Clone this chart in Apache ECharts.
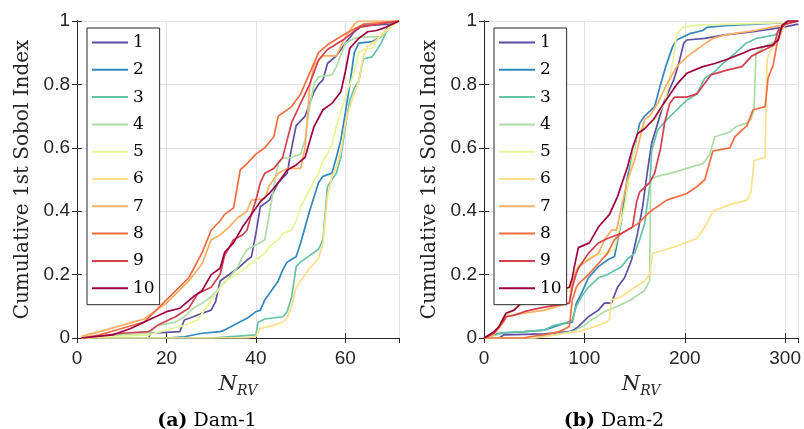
<!DOCTYPE html>
<html>
<head>
<meta charset="utf-8">
<script src="https://cdn.jsdelivr.net/npm/echarts@6/dist/echarts.min.js"></script>
<style>html,body{margin:0;background:#fff}#main{width:804px;height:429px}</style>
</head>
<body>
<div id="main"></div>
<script>
// series names and colours (Spectral, 1..10)
var names = ['1', '2', '3', '4', '5', '6', '7', '8', '9', '10'];
var colors = ['#5e4fa2', '#3288bd', '#66c2a5', '#abdda4', '#e6f598', '#fee08b', '#fdae61', '#f46d43', '#d53e4f', '#9e0142'];

// Dam-1 : [N_RV, cumulative 1st Sobol index]
var dam1_s1 = [[1,0],[16,0],[16.5,0.015],[23,0.02],[24,0.057],[26,0.067],[28,0.078],[30,0.088],[31,0.115],[32,0.18],[33,0.19],[36,0.22],[38,0.246],[39,0.256],[40,0.33],[41,0.414],[43,0.435],[45,0.49],[47,0.52],[48,0.6],[49,0.67],[51,0.7],[52,0.74],[53,0.777],[54,0.8],[55,0.814],[56,0.866],[58,0.89],[60,0.93],[62,0.966],[64,0.987],[66,0.987],[70,0.99],[72,1]];
var dam1_s2 = [[1,0],[20,0],[24,0.004],[28,0.015],[32,0.02],[33,0.025],[35,0.04],[38,0.062],[40,0.083],[41,0.088],[42,0.12],[44,0.16],[45,0.18],[46,0.215],[47,0.24],[49,0.256],[50,0.3],[51,0.35],[52,0.4],[54,0.49],[55,0.51],[57,0.52],[58,0.57],[59,0.625],[60,0.71],[61,0.8],[62,0.9],[63,0.93],[66,0.935],[68,0.95],[70,0.99],[72,1]];
var dam1_s3 = [[1,0],[30,0],[40,0.01],[40.5,0.05],[42,0.06],[46,0.067],[47,0.083],[48,0.13],[49,0.225],[50,0.24],[52,0.26],[54,0.28],[55,0.31],[56,0.477],[57,0.5],[58,0.52],[59,0.57],[60,0.667],[61,0.75],[62,0.788],[63,0.81],[64,0.88],[66,0.887],[67,0.908],[68,0.93],[69,0.96],[70,0.99],[72,1]];
var dam1_s4 = [[1,0],[10,0.01],[16,0.015],[18,0.04],[22,0.05],[24,0.067],[26,0.094],[28,0.11],[30,0.13],[32,0.16],[34,0.19],[36,0.225],[37,0.256],[38,0.278],[40,0.293],[42,0.31],[43,0.39],[44,0.477],[45,0.55],[46,0.567],[48,0.57],[50,0.58],[51,0.625],[52,0.73],[53,0.8],[54,0.824],[57,0.83],[58,0.856],[60,0.93],[62,0.945],[64,0.95],[68,0.95],[70,0.98],[72,1]];
var dam1_s5 = [[1,0],[16,0.01],[20,0.025],[24,0.04],[27,0.057],[30,0.12],[33,0.178],[36,0.204],[38,0.225],[40,0.246],[42,0.267],[43,0.288],[45,0.31],[46,0.33],[48,0.34],[49,0.37],[50,0.414],[52,0.467],[54,0.52],[55,0.56],[56,0.58],[57,0.61],[58,0.667],[60,0.76],[62,0.84],[63,0.9],[64,0.91],[66,0.914],[67,0.94],[69,0.97],[72,1]];
var dam1_s6 = [[1,0],[38,0],[40,0.005],[41,0.03],[44,0.04],[46,0.05],[47,0.062],[48,0.1],[49,0.16],[50,0.18],[52,0.22],[54,0.25],[55,0.3],[56,0.446],[57,0.51],[58,0.54],[59,0.59],[60,0.677],[61,0.73],[62,0.77],[63,0.81],[64,0.887],[65,0.92],[67,0.94],[69,0.97],[71,0.99],[72,1]];
var dam1_s7 = [[1,0.005],[5,0.02],[10,0.04],[15,0.06],[20,0.11],[25,0.18],[28,0.235],[30,0.31],[32,0.325],[34,0.35],[36,0.38],[38,0.4],[39,0.435],[42,0.44],[43,0.48],[45,0.52],[47,0.535],[50,0.535],[51,0.6],[52,0.79],[53,0.86],[55,0.89],[58,0.89],[60,0.95],[62,0.99],[63,1],[72,1]];
var dam1_s8 = [[1,0],[5,0.01],[10,0.03],[15,0.05],[20,0.12],[25,0.19],[28,0.27],[30,0.34],[32,0.37],[33,0.39],[35,0.41],[36.5,0.53],[38,0.55],[40,0.58],[42,0.6],[44,0.635],[45,0.7],[48,0.73],[50,0.77],[52,0.835],[54,0.9],[56,0.925],[60,0.96],[64,0.99],[72,1]];
var dam1_s9 = [[1,0],[10,0.015],[16,0.02],[18,0.04],[22,0.067],[25,0.094],[27,0.14],[30,0.16],[32,0.2],[33,0.26],[35,0.31],[37,0.325],[38,0.34],[39,0.39],[40,0.435],[41,0.49],[42,0.52],[44,0.535],[46,0.57],[47,0.625],[48,0.68],[50,0.74],[52,0.8],[54,0.877],[56,0.91],[60,0.945],[63,0.98],[72,1]];
var dam1_s10 = [[1,0],[8,0.01],[12,0.03],[16,0.057],[20,0.083],[23,0.094],[26,0.13],[28,0.15],[30,0.2],[32,0.22],[33,0.27],[35,0.3],[37,0.35],[39,0.39],[41,0.43],[43,0.456],[45,0.49],[47,0.53],[49,0.546],[51,0.57],[53,0.667],[55,0.72],[57,0.74],[59,0.777],[60,0.84],[61,0.914],[63,0.945],[65,0.966],[67,0.97],[69,0.98],[72,1]];

// Dam-2
var dam2_s1 = [[0,0],[15,0],[20,0.01],[60,0.013],[85,0.02],[90,0.027],[94,0.036],[104,0.067],[114,0.088],[120,0.11],[127,0.11],[133,0.16],[140,0.19],[147,0.246],[153,0.33],[158,0.414],[163,0.53],[167,0.614],[174,0.688],[180,0.75],[189,0.814],[194,0.866],[199,0.93],[202,0.94],[220,0.945],[240,0.956],[268,0.966],[297,0.98],[313,0.99]];
var dam2_s2 = [[0,0],[15,0.015],[40,0.02],[60,0.025],[70,0.036],[80,0.046],[88,0.05],[92,0.11],[97,0.14],[104,0.19],[114,0.225],[123,0.246],[130,0.257],[137,0.37],[143,0.51],[150,0.6],[155,0.677],[160,0.7],[170,0.73],[175,0.79],[181,0.856],[188,0.92],[192,0.94],[205,0.96],[218,0.97],[222,0.98],[240,0.985],[300,0.995],[313,1]];
var dam2_s3 = [[0,0],[20,0.017],[40,0.02],[60,0.025],[70,0.04],[80,0.046],[88,0.057],[92,0.1],[97,0.13],[104,0.16],[114,0.19],[123,0.2],[137,0.225],[143,0.25],[150,0.267],[155,0.31],[160,0.36],[165,0.477],[167,0.59],[173,0.656],[182,0.688],[192,0.72],[202,0.75],[212,0.77],[220,0.82],[228,0.835],[238,0.866],[251,0.9],[261,0.93],[271,0.945],[290,0.956],[297,0.977],[302,0.995],[313,1]];
var dam2_s4 = [[0,0],[50,0],[70,0.01],[90,0.022],[100,0.04],[107,0.057],[120,0.083],[133,0.1],[146,0.12],[160,0.15],[165,0.18],[166,0.5],[173,0.51],[192,0.525],[202,0.535],[218,0.55],[225,0.58],[230,0.635],[245,0.65],[251,0.667],[261,0.677],[266,0.69],[269,0.72],[271,0.9],[274,0.905],[280,0.92],[293,0.94],[300,0.995],[313,1]];
var dam2_s5 = [[0,0],[10,0.01],[20,0.067],[25,0.078],[35,0.1],[45,0.12],[55,0.125],[70,0.136],[85,0.15],[88,0.19],[94,0.23],[107,0.257],[120,0.267],[130,0.28],[140,0.414],[146,0.53],[151,0.625],[155,0.656],[170,0.688],[180,0.74],[188,0.866],[192,0.96],[198,0.98],[212,0.987],[300,0.995],[313,1]];
var dam2_s6 = [[0,0],[50,0],[60,0.004],[80,0.015],[94,0.02],[114,0.04],[122,0.05],[125,0.06],[127,0.12],[137,0.13],[150,0.16],[160,0.18],[165,0.2],[168,0.267],[182,0.28],[192,0.29],[212,0.314],[220,0.35],[228,0.4],[244,0.42],[262,0.435],[266,0.46],[269,0.56],[280,0.57],[282,0.88],[286,0.91],[290,0.93],[295,0.96],[300,0.99],[313,1]];
var dam2_s7 = [[0,0],[10,0.01],[20,0.052],[22,0.067],[40,0.078],[60,0.088],[85,0.11],[88,0.18],[94,0.225],[104,0.246],[114,0.267],[120,0.31],[127,0.34],[132,0.34],[137,0.414],[143,0.5],[150,0.56],[155,0.625],[160,0.69],[165,0.7],[173,0.74],[182,0.8],[192,0.856],[202,0.887],[212,0.91],[218,0.924],[228,0.945],[240,0.956],[270,0.97],[297,0.987],[313,1]];
var dam2_s8 = [[0,0],[40,0],[45,0.004],[60,0.01],[75,0.02],[85,0.036],[88,0.12],[92,0.16],[94,0.17],[104,0.2],[114,0.235],[123,0.267],[130,0.31],[137,0.33],[153,0.36],[166,0.4],[182,0.435],[202,0.456],[212,0.477],[220,0.5],[228,0.59],[245,0.6],[250,0.635],[262,0.67],[268,0.72],[280,0.73],[283,0.82],[288,0.86],[292,0.93],[297,0.98],[302,1],[313,1]];
var dam2_s9 = [[0,0],[10,0.015],[20,0.057],[22,0.067],[30,0.072],[40,0.083],[55,0.094],[65,0.1],[85,0.11],[88,0.16],[92,0.204],[94,0.22],[104,0.267],[114,0.3],[123,0.314],[137,0.33],[148,0.35],[152,0.43],[155,0.46],[165,0.49],[170,0.52],[176,0.6],[180,0.68],[185,0.74],[190,0.76],[202,0.76],[212,0.77],[226,0.83],[242,0.845],[257,0.856],[267,0.89],[280,0.91],[289,0.924],[293,0.97],[300,0.99],[313,1]];
var dam2_s10 = [[0,0],[10,0.02],[15,0.036],[20,0.067],[22,0.078],[30,0.088],[35,0.104],[43,0.13],[55,0.136],[65,0.146],[75,0.15],[85,0.16],[88,0.19],[90,0.225],[94,0.285],[105,0.3],[114,0.35],[125,0.39],[133,0.446],[143,0.54],[148,0.6],[153,0.645],[160,0.66],[169,0.69],[179,0.74],[192,0.8],[202,0.835],[218,0.856],[230,0.866],[243,0.88],[259,0.9],[266,0.91],[280,0.92],[287,0.924],[293,0.94],[297,0.987],[303,1],[313,1]];

var dam1 = [dam1_s1, dam1_s2, dam1_s3, dam1_s4, dam1_s5, dam1_s6, dam1_s7, dam1_s8, dam1_s9, dam1_s10];
var dam2 = [dam2_s1, dam2_s2, dam2_s3, dam2_s4, dam2_s5, dam2_s6, dam2_s7, dam2_s8, dam2_s9, dam2_s10];

var serif = 'DejaVu Serif';
var sans = 'Liberation Sans';
var dark = '#262626';

function xAxes(gi, xmax, step) {
    return [{
        type: 'value', gridIndex: gi, min: 0, max: xmax, interval: step,
        name: '{n|N}{s|RV}', nameLocation: 'middle', nameGap: 34,
        nameTextStyle: {
            rich: {
                n: { fontFamily: serif, fontStyle: 'italic', fontSize: 21, color: dark },
                s: { fontFamily: serif, fontStyle: 'italic', fontSize: 14, color: dark, padding: [12, 0, 0, 0] }
            }
        },
        axisLine: { lineStyle: { color: dark, width: 1 } },
        axisTick: { inside: true, length: 5, lineStyle: { color: dark } },
        axisLabel: { fontFamily: sans, fontSize: 19, color: dark, margin: 11, showMaxLabel: false },
        splitLine: { show: true, lineStyle: { color: '#e3e3e3', width: 1 } }
    }, {
        type: 'value', gridIndex: gi, min: 0, max: xmax, interval: step, position: 'top',
        axisLine: { lineStyle: { color: dark, width: 1 } },
        axisTick: { inside: true, length: 5, lineStyle: { color: dark } },
        axisLabel: { show: false }, splitLine: { show: false }
    }];
}

function yAxes(gi) {
    return [{
        type: 'value', gridIndex: gi, min: 0, max: 1, interval: 0.2,
        name: 'Cumulative 1st Sobol Index', nameLocation: 'middle', nameGap: 44,
        nameTextStyle: { fontFamily: serif, fontSize: 20, color: dark },
        axisLine: { show: true, lineStyle: { color: dark, width: 1 } },
        axisTick: { show: true, inside: true, length: 5, lineStyle: { color: dark } },
        axisLabel: { fontFamily: sans, fontSize: 19, color: dark, margin: 7 },
        splitLine: { show: true, lineStyle: { color: '#e3e3e3', width: 1 } }
    }, {
        type: 'value', gridIndex: gi, min: 0, max: 1, interval: 0.2, position: 'right',
        axisLine: { show: true, lineStyle: { color: dark, width: 1 } },
        axisTick: { show: true, inside: true, length: 5, lineStyle: { color: dark } },
        axisLabel: { show: false }, splitLine: { show: false }
    }];
}

function legendAt(left) {
    return {
        data: names, orient: 'vertical', left: left, top: 28,
        padding: [6, 5, 8, 5], itemGap: 10.3, itemWidth: 36, itemHeight: 2,
        icon: 'rect',
        borderColor: dark, borderWidth: 1, backgroundColor: '#fff',
        selectedMode: false,
        textStyle: { fontFamily: serif, fontSize: 17, color: '#000', lineHeight: 12 }
    };
}

var series = [];
[dam1, dam2].forEach(function (set, gi) {
    set.forEach(function (pts, i) {
        series.push({
            name: names[i], type: 'line', data: pts,
            xAxisIndex: gi * 2, yAxisIndex: gi * 2,
            symbol: 'none', color: colors[i],
            lineStyle: { width: 1.7, color: colors[i] },
            animation: false
        });
    });
});

var myChart = echarts.init(document.getElementById('main'));
var option = {
    backgroundColor: '#fff',
    animation: false,
    grid: [
        { left: 77, top: 21, width: 322, height: 317 },
        { left: 484, top: 21, width: 319, height: 317 }
    ],
    xAxis: xAxes(0, 72, 20).concat(xAxes(1, 313, 100)),
    yAxis: yAxes(0).concat(yAxes(1)),
    legend: [legendAt(87), legendAt(494)],
    graphic: [
        { type: 'text', x: 207, y: 421, style: { text: '{b|(a)} Dam-1', align: 'center', verticalAlign: 'middle', fontFamily: serif, fontSize: 19, fill: '#000', rich: { b: { fontFamily: serif, fontSize: 19, fontWeight: 'bold', fill: '#000' } } } },
        { type: 'text', x: 614, y: 421, style: { text: '{b|(b)} Dam-2', align: 'center', verticalAlign: 'middle', fontFamily: serif, fontSize: 19, fill: '#000', rich: { b: { fontFamily: serif, fontSize: 19, fontWeight: 'bold', fill: '#000' } } } }
    ],
    series: series
};
myChart.setOption(option);
</script>
</body>
</html>
